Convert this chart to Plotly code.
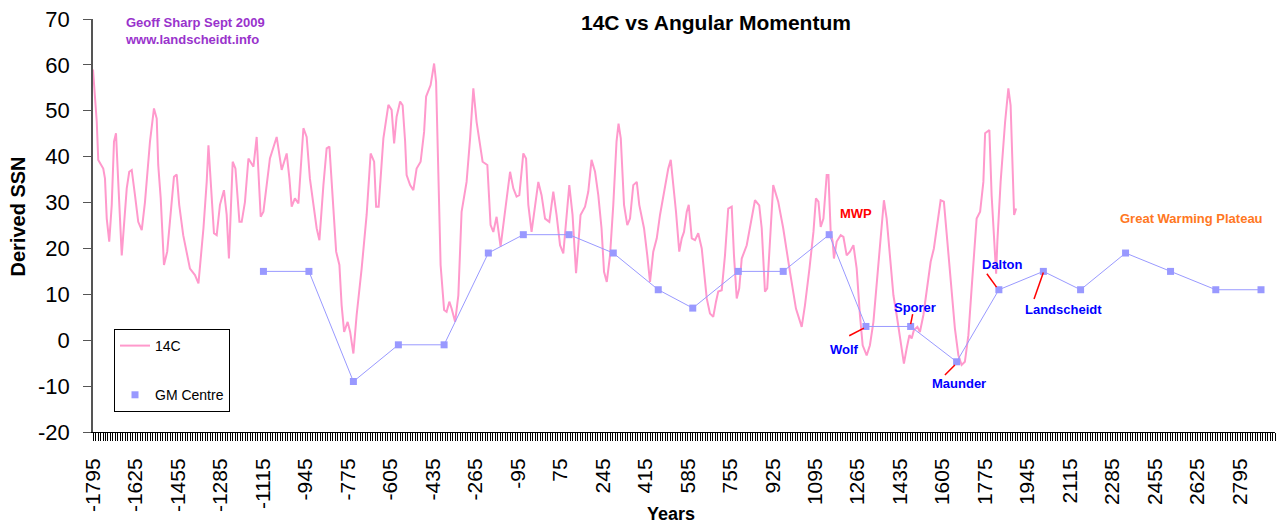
import plotly.graph_objects as go

# ---------------- data ----------------
c14_years = [-1795, -1780, -1774, -1754, -1747, -1740, -1730, -1720, -1711, -1703, -1694, -1680, -1674,
             -1660, -1650, -1640, -1627, -1614, -1600, -1587, -1567, -1551, -1540, -1534, -1524, -1511,
             -1498, -1480, -1471, -1460, -1450, -1434, -1407, -1387, -1373, -1353, -1340, -1333, -1324,
             -1311, -1300, -1287, -1271, -1260, -1251, -1236, -1225, -1209, -1200, -1187, -1173, -1153,
             -1140, -1124, -1113, -1100, -1087, -1060, -1040, -1020, -1009, -1000, -987, -973, -964,
             -953, -940, -927, -900, -889, -873, -860, -849, -840, -822, -809, -800, -790, -776, -766,
             -753, -740, -720, -700, -684, -670, -662, -652, -633, -613, -600, -590, -580, -566,
             -556, -546, -540, -526, -513, -500, -484, -470, -462, -444, -430, -422, -413, -404, -390,
             -380, -369, -360, -346, -333, -320, -300, -286, -273, -260, -246, -236, -217, -204, -193,
             -180, -164, -142, -126, -113, -100, -89, -73, -62, -53, -40, -26, -13, 0, 14, 31, 47, 60,
             74, 87, 100, 111, 124, 138, 147, 156, 174, 187, 200, 214, 227, 240, 250, 261, 274, 287,
             300, 308, 317, 330, 343, 354, 367, 381, 391, 410, 423, 434, 447, 461, 474, 494, 507, 517,
             527, 538, 551, 561, 570, 581, 589, 601, 614, 627, 641, 654, 661, 674,
             687, 698, 707, 721, 734, 747, 761, 770, 781, 791, 801, 821, 837, 854, 871, 881, 894, 903,
             914, 927, 947, 967, 994, 1018, 1041, 1054, 1072, 1088, 1098, 1108, 1117, 1128, 1141, 1148,
             1157, 1165, 1170, 1181, 1197, 1208, 1221, 1234, 1248, 1261, 1274, 1285, 1301, 1314, 1328,
             1348, 1361, 1370, 1381, 1394, 1408, 1421, 1434, 1450, 1461, 1472, 1481, 1490, 1504, 1514,
             1528, 1544, 1557, 1570, 1584, 1597, 1610, 1624, 1637, 1654, 1668, 1681, 1694, 1708, 1721,
             1735, 1741, 1755, 1768, 1775, 1792, 1801, 1811, 1819, 1824, 1837, 1855, 1868, 1877, 1885,
             1891, 1899]
c14_values = [59, 47.6, 39.3, 37.4, 35.2, 26.5, 21.5, 29.5, 43.3, 45.1, 34.5, 18.5, 22.9,
              33.1, 36.7, 37.1, 31.6, 25.8, 24, 30.1, 43.3, 50.5, 48.3, 38.2, 30.9, 16.4,
              19.3, 29.5, 35.6, 36.1, 29.5, 22.9, 15.6, 14.2, 12.4, 24.4, 34.5, 42.5, 34.5,
              23.3, 22.9, 29.5, 32.7, 27.3, 17.8, 38.9, 37.4, 25.8, 25.8, 30.1, 39.6, 37.8,
              44.3, 26.9, 28, 34.5, 39.6, 44.3, 37.1, 40.7, 35.2, 29.1, 30.9, 29.8, 36.7,
              46.2, 44.3, 35.2, 24.4, 21.8, 33.8, 41.8, 42.2, 35.2, 19.3, 16.4, 7.6, 1.8, 4, 1.8,
              -2.9, 5.5, 15.6, 27.3, 40.7, 38.9, 29.1, 29.1, 44, 51.3, 50.2, 42.9, 48.7, 52,
              51.2, 43.3, 36, 33.8, 32.7, 37.4, 38.9, 45.4, 53.1, 55.6, 60.3, 56.3, 36.7, 16.4, 6.6,
              6.2, 8.4, 6.9, 4, 9.8, 28, 34.5, 44, 54.9, 47.6, 42.5, 38.9, 38.2, 25.1, 23.6,
              26.9, 20.4, 30.1, 36.7, 33.1, 31.3, 31.6, 40.7, 39.6, 29.5, 23.6, 29.5, 34.5, 31.6, 26.5, 25.8, 32.4, 27.3,
              20.7, 18.9, 28, 33.8, 27.3, 14.6, 20.7, 27.3, 29.1, 32.4, 39.3, 36.7, 31.6, 24.4, 14.9, 12.7, 18.5, 29.5,
              43.3, 47.2, 44, 29.5, 25.1, 26.5, 33.8, 34.5, 29.5, 24.4, 18.5, 12.7, 19.3, 22.2, 27.3, 33.1, 37.4, 39.3,
              34.5, 28, 19.3, 22.2, 23.6, 28, 29.5, 22.2, 21.8, 23.3, 20, 12.7, 9.1, 5.8,
              5.1, 8.4, 10.6, 10.9, 18.5, 28.7, 29.1, 18.5, 9.1, 11.3, 17.8, 20.7, 25.8, 30.5, 29.4, 24.4, 10.6, 11.3,
              21.5, 33.8, 30.2, 24.4, 14.9, 6.9, 2.9, 7.6, 15.6, 23.6, 30.9, 30.2, 24.7, 26.5, 36, 36,
              23.6, 21.5, 17.8, 21.5, 22.9, 22.5, 18.5, 19.3, 20.7, 15.6, 5.5, -1.1, -3.3, -1.1, 4,
              17.1, 26.5, 30.5, 26.5, 18.5, 9.8, 5.5, 0.4, -5.1, -1.8, 1.1, 0.4, 2.2, 2.9, 1.8,
              5.5, 11.3, 17.1, 20, 25.8, 30.5, 30.2, 21.5, 12.7, 2.6, -3.3, -5.4, -4.7, 1.1, 11.3,
              22.9, 26.5, 28, 34.5, 45.1, 45.8, 31.6, 20.7, 14.5, 21.5, 34.5, 47.6, 54.9, 51.2, 35.2,
              27.3, 28.7]

gm_years = [-1113, -931, -753, -573, -390, -213, -73, 110, 287, 467, 605, 787, 967, 1151,
            1298, 1477, 1661, 1830, 2008, 2157, 2337, 2517, 2698, 2879]
gm_values = [15, 15, -9, -1, -1, 19, 23, 23, 19, 11, 7, 15, 15, 23,
             3, 3, -4.7, 11, 15, 11, 19, 15, 11, 11]

x_tick_values = [-1795 + 170 * i for i in range(28)]
x_tick_labels = [str(v) for v in x_tick_values]          # plain hyphen minus, as in Excel
x_minor_step = 10
x_range = [-1795, 2935]
y_tick_values = [-20, -10, 0, 10, 20, 30, 40, 50, 60, 70]
y_tick_labels = [str(v) for v in y_tick_values]
y_range = [-20, 70]

# named minima labels attached to GM Centre points (index into gm arrays)
minima = [
    # name, gm index, text shift (px), leader from/to offsets (px, y up)
    ("Wolf", 14, (-21, -23), (-16.7, -9.3, -2, -1.7)),
    ("Sporer", 15, (4, 19), (2, 12.3, 0, 2.3)),
    ("Maunder", 16, (2, -22), (-11.7, -13.3, -1.7, -3.3)),
    ("Dalton", 17, (4, 25), (-12, 16, -2.3, 2.6)),
    ("Landscheidt", 18, (20, -38.6), (-9.3, -27.6, 0, -1)),
]

FONT = "Liberation Sans, Arial, sans-serif"
L, R, T, B = 93, 1, 19, 92
PW = 1276 - L - R
PH = 524 - T - B

fig = go.Figure()
fig.add_trace(go.Scatter(
    x=c14_years, y=c14_values, mode="lines", name="14C",
    line=dict(color="#FF99CC", width=2), legendgroup="a"))
fig.add_trace(go.Scatter(
    x=gm_years, y=gm_values, mode="lines+markers", name="GM Centre",
    line=dict(color="#9999FF", width=1),
    marker=dict(symbol="square", size=7, color="#9999FF"),
    showlegend=False))
fig.add_trace(go.Scatter(
    x=[None], y=[None], mode="markers", name="GM Centre",
    marker=dict(symbol="square", size=7, color="#9999FF"), legendgroup="b"))


def px(xp):
    return (xp - L) / PW


def py(yp):
    return (524 - B - yp) / PH


annotations = [
    dict(text="<b>14C vs Angular Momentum</b>", xref="paper", yref="paper",
         x=px(716), y=py(23), xanchor="center", yanchor="middle", showarrow=False,
         font=dict(size=21, color="black", family=FONT)),
    dict(text="<b>Geoff Sharp Sept 2009<br>www.landscheidt.info</b>", xref="paper", yref="paper",
         x=px(123), y=py(13), xanchor="left", yanchor="top", align="left",
         showarrow=False, font=dict(size=13, color="#9933CC", family=FONT)),
    dict(text="<b>Derived SSN</b>", xref="paper", yref="paper", x=px(17.5),
         y=py(217), xanchor="center", yanchor="middle", textangle=-90, showarrow=False,
         font=dict(size=20, color="black", family=FONT)),
    dict(text="<b>Years</b>", xref="paper", yref="paper", x=px(671),
         y=py(514), xanchor="center", yanchor="middle", showarrow=False,
         font=dict(size=18, color="black", family=FONT)),
    dict(text="<b>MWP</b>", x=1258, y=27.7, showarrow=False,
         font=dict(size=13, color="#FF0000", family=FONT)),
    dict(text="<b>Great Warming Plateau</b>", x=2599, y=26.6, showarrow=False,
         font=dict(size=13, color="#FF7722", family=FONT)),
]
shapes = []
for name, idx, (dx, dy), (lx0, ly0, lx1, ly1) in minima:
    annotations.append(dict(text=f"<b>{name}</b>", x=gm_years[idx], y=gm_values[idx],
                            xshift=dx, yshift=dy, showarrow=False,
                            font=dict(size=13, color="#0000FF", family=FONT)))
    shapes.append(dict(type="line", xref="x", yref="y",
                       xsizemode="pixel", ysizemode="pixel",
                       xanchor=gm_years[idx], yanchor=gm_values[idx],
                       x0=lx0, y0=ly0, x1=lx1, y1=ly1,
                       line=dict(color="#FF0000", width=1.5)))

fig.update_layout(
    width=1276, height=524,
    margin=dict(l=L, r=R, t=T, b=B, autoexpand=False),
    paper_bgcolor="white", plot_bgcolor="white",
    font=dict(family=FONT, color="black"),
    showlegend=True,
    legend=dict(x=px(114), y=py(329), xanchor="left", yanchor="top",
                bordercolor="black", borderwidth=1, bgcolor="white",
                font=dict(size=14, family=FONT, color="black"),
                tracegroupgap=28, traceorder="grouped", itemwidth=30),
    annotations=annotations,
    shapes=shapes,
    xaxis=dict(range=x_range, tickmode="array", tickvals=x_tick_values, ticktext=x_tick_labels,
               ticks="outside", ticklen=8, tickcolor="black", tickwidth=1,
               tickangle=-90, tickfont=dict(size=21, family=FONT, color="black"),
               showline=True, linecolor="black", linewidth=1, automargin=False,
               showgrid=False, zeroline=False, ticklabelstandoff=9,
               minor=dict(tick0=x_range[0], dtick=x_minor_step, ticks="outside",
                          ticklen=8, tickcolor="black", tickwidth=1, showgrid=False)),
    yaxis=dict(range=y_range, tickmode="array", tickvals=y_tick_values, ticktext=y_tick_labels,
               ticks="outside", ticklen=8, automargin=False,
               tickcolor="#555555", tickfont=dict(size=22, family=FONT, color="black"),
               showline=True, linecolor="#555555", linewidth=1.5,
               showgrid=False, zeroline=False, ticklabelstandoff=9),
)

fig.write_html("out.html", config={"displayModeBar": False},
               post_script="document.body.style.margin='0';document.body.style.overflow='hidden';")
